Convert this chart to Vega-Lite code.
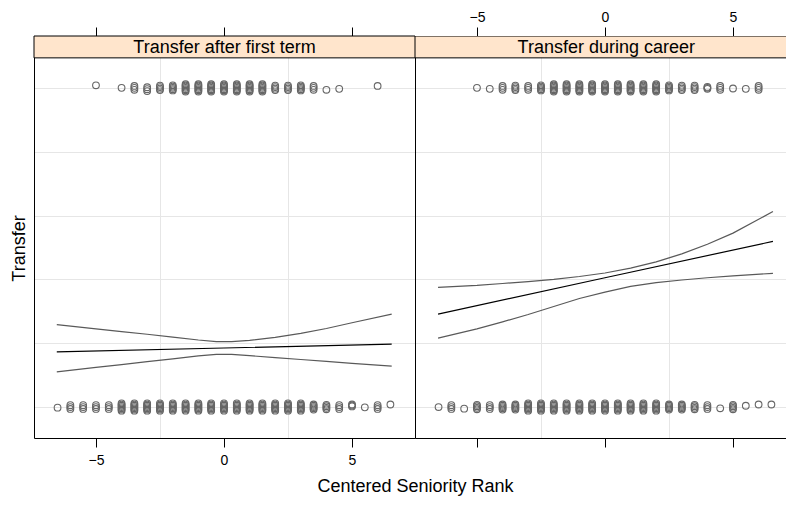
{
"$schema": "https://vega.github.io/schema/vega-lite/v6.json",
"padding": {"left": 10, "top": 10, "right": 0, "bottom": 4},
"spacing": 0,
"bounds": "flush",
"config": {
  "view": {"stroke": null},
  "font": "Liberation Sans",
  "axis": {"labelColor": "black", "titleColor": "black", "titleFontWeight": "normal", "labelFont": "Liberation Sans", "titleFont": "Liberation Sans", "domainColor": "black", "tickColor": "black", "gridColor": "#E6E6E6", "gridWidth": 1, "domainWidth": 1, "tickWidth": 1}
},
"datasets": {
"curves": [
{"p":"L","c":"c","x":-6.53,"y":0.173},{"p":"L","c":"c","x":0,"y":0.185},{"p":"L","c":"c","x":6.55,"y":0.197},
{"p":"L","c":"u","x":-6.53,"y":0.258},{"p":"L","c":"u","x":-5,"y":0.245},{"p":"L","c":"u","x":-4,"y":0.236},{"p":"L","c":"u","x":-3,"y":0.228},{"p":"L","c":"u","x":-2,"y":0.219},{"p":"L","c":"u","x":-1,"y":0.21},{"p":"L","c":"u","x":-0.3,"y":0.205},{"p":"L","c":"u","x":0.3,"y":0.205},{"p":"L","c":"u","x":1,"y":0.209},{"p":"L","c":"u","x":2,"y":0.218},{"p":"L","c":"u","x":3,"y":0.231},{"p":"L","c":"u","x":4,"y":0.246},{"p":"L","c":"u","x":5,"y":0.264},{"p":"L","c":"u","x":6.55,"y":0.291},
{"p":"L","c":"l","x":-6.53,"y":0.11},{"p":"L","c":"l","x":-5,"y":0.124},{"p":"L","c":"l","x":-4,"y":0.133},{"p":"L","c":"l","x":-3,"y":0.142},{"p":"L","c":"l","x":-2,"y":0.151},{"p":"L","c":"l","x":-1,"y":0.16},{"p":"L","c":"l","x":-0.3,"y":0.165},{"p":"L","c":"l","x":0.3,"y":0.165},{"p":"L","c":"l","x":1,"y":0.161},{"p":"L","c":"l","x":2,"y":0.155},{"p":"L","c":"l","x":3,"y":0.149},{"p":"L","c":"l","x":4,"y":0.143},{"p":"L","c":"l","x":5,"y":0.137},{"p":"L","c":"l","x":6.55,"y":0.128},
{"p":"R","c":"c","x":-6.52,"y":0.291},{"p":"R","c":"c","x":0,"y":0.405},{"p":"R","c":"c","x":6.56,"y":0.519},
{"p":"R","c":"u","x":-6.52,"y":0.375},{"p":"R","c":"u","x":-5,"y":0.381},{"p":"R","c":"u","x":-4,"y":0.387},{"p":"R","c":"u","x":-3,"y":0.393},{"p":"R","c":"u","x":-2,"y":0.4},{"p":"R","c":"u","x":-1,"y":0.409},{"p":"R","c":"u","x":0,"y":0.42},{"p":"R","c":"u","x":1,"y":0.435},{"p":"R","c":"u","x":2,"y":0.455},{"p":"R","c":"u","x":3,"y":0.48},{"p":"R","c":"u","x":4,"y":0.51},{"p":"R","c":"u","x":5,"y":0.545},{"p":"R","c":"u","x":6.56,"y":0.6125},
{"p":"R","c":"l","x":-6.52,"y":0.216},{"p":"R","c":"l","x":-5,"y":0.245},{"p":"R","c":"l","x":-4,"y":0.267},{"p":"R","c":"l","x":-3,"y":0.29},{"p":"R","c":"l","x":-2,"y":0.315},{"p":"R","c":"l","x":-1,"y":0.34},{"p":"R","c":"l","x":0,"y":0.36},{"p":"R","c":"l","x":1,"y":0.378},{"p":"R","c":"l","x":2,"y":0.39},{"p":"R","c":"l","x":3,"y":0.398},{"p":"R","c":"l","x":4,"y":0.405},{"p":"R","c":"l","x":5,"y":0.411},{"p":"R","c":"l","x":6.56,"y":0.419}
],
"pts": [
{"p":"L","x":-5,"y":1.008},{"p":"L","x":-4,"y":1.0},
{"p":"L","x":-3.5,"y":0.994},{"p":"L","x":-3.5,"y":1.0},{"p":"L","x":-3.5,"y":1.006},
{"p":"L","x":-3,"y":0.99},{"p":"L","x":-3,"y":0.996},{"p":"L","x":-3,"y":1.002},
{"p":"L","x":-2.5,"y":0.993},{"p":"L","x":-2.5,"y":0.9975},{"p":"L","x":-2.5,"y":1.0025},{"p":"L","x":-2.5,"y":1.007},
{"p":"L","x":-2,"y":0.992},{"p":"L","x":-2,"y":0.996},{"p":"L","x":-2,"y":1.0},{"p":"L","x":-2,"y":1.004},{"p":"L","x":-2,"y":1.008},
{"p":"L","x":-1.5,"y":0.9885},{"p":"L","x":-1.5,"y":0.9925},{"p":"L","x":-1.5,"y":0.996},{"p":"L","x":-1.5,"y":1.0},{"p":"L","x":-1.5,"y":1.004},{"p":"L","x":-1.5,"y":1.0075},{"p":"L","x":-1.5,"y":1.0115},
{"p":"L","x":-1,"y":0.9885},{"p":"L","x":-1,"y":0.9925},{"p":"L","x":-1,"y":0.996},{"p":"L","x":-1,"y":1.0},{"p":"L","x":-1,"y":1.004},{"p":"L","x":-1,"y":1.0075},{"p":"L","x":-1,"y":1.0115},
{"p":"L","x":-0.5,"y":0.9885},{"p":"L","x":-0.5,"y":0.9925},{"p":"L","x":-0.5,"y":0.996},{"p":"L","x":-0.5,"y":1.0},{"p":"L","x":-0.5,"y":1.004},{"p":"L","x":-0.5,"y":1.0075},{"p":"L","x":-0.5,"y":1.0115},
{"p":"L","x":0,"y":0.9885},{"p":"L","x":0,"y":0.9925},{"p":"L","x":0,"y":0.996},{"p":"L","x":0,"y":1.0},{"p":"L","x":0,"y":1.004},{"p":"L","x":0,"y":1.0075},{"p":"L","x":0,"y":1.0115},
{"p":"L","x":0.5,"y":0.9885},{"p":"L","x":0.5,"y":0.9925},{"p":"L","x":0.5,"y":0.996},{"p":"L","x":0.5,"y":1.0},{"p":"L","x":0.5,"y":1.004},{"p":"L","x":0.5,"y":1.0075},{"p":"L","x":0.5,"y":1.0115},
{"p":"L","x":1,"y":0.9885},{"p":"L","x":1,"y":0.9925},{"p":"L","x":1,"y":0.996},{"p":"L","x":1,"y":1.0},{"p":"L","x":1,"y":1.004},{"p":"L","x":1,"y":1.0075},{"p":"L","x":1,"y":1.0115},
{"p":"L","x":1.5,"y":0.9885},{"p":"L","x":1.5,"y":0.9925},{"p":"L","x":1.5,"y":0.996},{"p":"L","x":1.5,"y":1.0},{"p":"L","x":1.5,"y":1.004},{"p":"L","x":1.5,"y":1.0075},{"p":"L","x":1.5,"y":1.0115},
{"p":"L","x":2,"y":0.993},{"p":"L","x":2,"y":0.9975},{"p":"L","x":2,"y":1.0025},{"p":"L","x":2,"y":1.007},
{"p":"L","x":2.5,"y":0.993},{"p":"L","x":2.5,"y":0.9975},{"p":"L","x":2.5,"y":1.0025},{"p":"L","x":2.5,"y":1.007},
{"p":"L","x":3,"y":0.992},{"p":"L","x":3,"y":0.996},{"p":"L","x":3,"y":1.0},{"p":"L","x":3,"y":1.004},{"p":"L","x":3,"y":1.008},
{"p":"L","x":3.5,"y":0.994},{"p":"L","x":3.5,"y":1.0},{"p":"L","x":3.5,"y":1.006},
{"p":"L","x":4,"y":0.994},{"p":"L","x":4.5,"y":0.997},{"p":"L","x":6,"y":1.006},
{"p":"L","x":-6.5,"y":-0.002},
{"p":"L","x":-6,"y":-0.006},{"p":"L","x":-6,"y":0},{"p":"L","x":-6,"y":0.006},
{"p":"L","x":-5.5,"y":-0.006},{"p":"L","x":-5.5,"y":0},{"p":"L","x":-5.5,"y":0.006},
{"p":"L","x":-5,"y":-0.006},{"p":"L","x":-5,"y":0},{"p":"L","x":-5,"y":0.006},
{"p":"L","x":-4.5,"y":-0.006},{"p":"L","x":-4.5,"y":0},{"p":"L","x":-4.5,"y":0.006},
{"p":"L","x":-4,"y":-0.0115},{"p":"L","x":-4,"y":-0.0075},{"p":"L","x":-4,"y":-0.004},{"p":"L","x":-4,"y":0},{"p":"L","x":-4,"y":0.004},{"p":"L","x":-4,"y":0.0075},{"p":"L","x":-4,"y":0.0115},
{"p":"L","x":-3.5,"y":-0.0115},{"p":"L","x":-3.5,"y":-0.0075},{"p":"L","x":-3.5,"y":-0.004},{"p":"L","x":-3.5,"y":0},{"p":"L","x":-3.5,"y":0.004},{"p":"L","x":-3.5,"y":0.0075},{"p":"L","x":-3.5,"y":0.0115},
{"p":"L","x":-3,"y":-0.0115},{"p":"L","x":-3,"y":-0.0075},{"p":"L","x":-3,"y":-0.004},{"p":"L","x":-3,"y":0},{"p":"L","x":-3,"y":0.004},{"p":"L","x":-3,"y":0.0075},{"p":"L","x":-3,"y":0.0115},
{"p":"L","x":-2.5,"y":-0.0115},{"p":"L","x":-2.5,"y":-0.0075},{"p":"L","x":-2.5,"y":-0.004},{"p":"L","x":-2.5,"y":0},{"p":"L","x":-2.5,"y":0.004},{"p":"L","x":-2.5,"y":0.0075},{"p":"L","x":-2.5,"y":0.0115},
{"p":"L","x":-2,"y":-0.0115},{"p":"L","x":-2,"y":-0.0075},{"p":"L","x":-2,"y":-0.004},{"p":"L","x":-2,"y":0},{"p":"L","x":-2,"y":0.004},{"p":"L","x":-2,"y":0.0075},{"p":"L","x":-2,"y":0.0115},
{"p":"L","x":-1.5,"y":-0.0115},{"p":"L","x":-1.5,"y":-0.0075},{"p":"L","x":-1.5,"y":-0.004},{"p":"L","x":-1.5,"y":0},{"p":"L","x":-1.5,"y":0.004},{"p":"L","x":-1.5,"y":0.0075},{"p":"L","x":-1.5,"y":0.0115},
{"p":"L","x":-1,"y":-0.0115},{"p":"L","x":-1,"y":-0.0075},{"p":"L","x":-1,"y":-0.004},{"p":"L","x":-1,"y":0},{"p":"L","x":-1,"y":0.004},{"p":"L","x":-1,"y":0.0075},{"p":"L","x":-1,"y":0.0115},
{"p":"L","x":-0.5,"y":-0.0115},{"p":"L","x":-0.5,"y":-0.0075},{"p":"L","x":-0.5,"y":-0.004},{"p":"L","x":-0.5,"y":0},{"p":"L","x":-0.5,"y":0.004},{"p":"L","x":-0.5,"y":0.0075},{"p":"L","x":-0.5,"y":0.0115},
{"p":"L","x":0,"y":-0.0115},{"p":"L","x":0,"y":-0.0075},{"p":"L","x":0,"y":-0.004},{"p":"L","x":0,"y":0},{"p":"L","x":0,"y":0.004},{"p":"L","x":0,"y":0.0075},{"p":"L","x":0,"y":0.0115},
{"p":"L","x":0.5,"y":-0.0115},{"p":"L","x":0.5,"y":-0.0075},{"p":"L","x":0.5,"y":-0.004},{"p":"L","x":0.5,"y":0},{"p":"L","x":0.5,"y":0.004},{"p":"L","x":0.5,"y":0.0075},{"p":"L","x":0.5,"y":0.0115},
{"p":"L","x":1,"y":-0.0115},{"p":"L","x":1,"y":-0.0075},{"p":"L","x":1,"y":-0.004},{"p":"L","x":1,"y":0},{"p":"L","x":1,"y":0.004},{"p":"L","x":1,"y":0.0075},{"p":"L","x":1,"y":0.0115},
{"p":"L","x":1.5,"y":-0.0115},{"p":"L","x":1.5,"y":-0.0075},{"p":"L","x":1.5,"y":-0.004},{"p":"L","x":1.5,"y":0},{"p":"L","x":1.5,"y":0.004},{"p":"L","x":1.5,"y":0.0075},{"p":"L","x":1.5,"y":0.0115},
{"p":"L","x":2,"y":-0.0115},{"p":"L","x":2,"y":-0.0075},{"p":"L","x":2,"y":-0.004},{"p":"L","x":2,"y":0},{"p":"L","x":2,"y":0.004},{"p":"L","x":2,"y":0.0075},{"p":"L","x":2,"y":0.0115},
{"p":"L","x":2.5,"y":-0.0115},{"p":"L","x":2.5,"y":-0.0075},{"p":"L","x":2.5,"y":-0.004},{"p":"L","x":2.5,"y":0},{"p":"L","x":2.5,"y":0.004},{"p":"L","x":2.5,"y":0.0075},{"p":"L","x":2.5,"y":0.0115},
{"p":"L","x":3,"y":-0.0115},{"p":"L","x":3,"y":-0.0075},{"p":"L","x":3,"y":-0.004},{"p":"L","x":3,"y":0},{"p":"L","x":3,"y":0.004},{"p":"L","x":3,"y":0.0075},{"p":"L","x":3,"y":0.0115},
{"p":"L","x":3.5,"y":-0.008},{"p":"L","x":3.5,"y":-0.004},{"p":"L","x":3.5,"y":0},{"p":"L","x":3.5,"y":0.004},{"p":"L","x":3.5,"y":0.008},
{"p":"L","x":4,"y":-0.007},{"p":"L","x":4,"y":-0.0025},{"p":"L","x":4,"y":0.0025},{"p":"L","x":4,"y":0.007},
{"p":"L","x":4.5,"y":-0.006},{"p":"L","x":4.5,"y":0},{"p":"L","x":4.5,"y":0.006},
{"p":"L","x":5,"y":0.002},{"p":"L","x":5,"y":0.005},{"p":"L","x":5,"y":0.008},
{"p":"L","x":5.5,"y":-0.001},
{"p":"L","x":6,"y":-0.006},{"p":"L","x":6,"y":0},{"p":"L","x":6,"y":0.006},
{"p":"L","x":6.5,"y":0.008},
{"p":"R","x":-5,"y":1.0},{"p":"R","x":-4.5,"y":0.997},
{"p":"R","x":-4,"y":0.994},{"p":"R","x":-4,"y":1.0},{"p":"R","x":-4,"y":1.006},
{"p":"R","x":-3.5,"y":0.993},{"p":"R","x":-3.5,"y":0.9975},{"p":"R","x":-3.5,"y":1.0025},{"p":"R","x":-3.5,"y":1.007},
{"p":"R","x":-3,"y":0.994},{"p":"R","x":-3,"y":1.0},{"p":"R","x":-3,"y":1.006},
{"p":"R","x":-2.5,"y":0.992},{"p":"R","x":-2.5,"y":0.996},{"p":"R","x":-2.5,"y":1.0},{"p":"R","x":-2.5,"y":1.004},{"p":"R","x":-2.5,"y":1.008},
{"p":"R","x":-2,"y":0.9885},{"p":"R","x":-2,"y":0.9925},{"p":"R","x":-2,"y":0.996},{"p":"R","x":-2,"y":1.0},{"p":"R","x":-2,"y":1.004},{"p":"R","x":-2,"y":1.0075},{"p":"R","x":-2,"y":1.0115},
{"p":"R","x":-1.5,"y":0.9885},{"p":"R","x":-1.5,"y":0.9925},{"p":"R","x":-1.5,"y":0.996},{"p":"R","x":-1.5,"y":1.0},{"p":"R","x":-1.5,"y":1.004},{"p":"R","x":-1.5,"y":1.0075},{"p":"R","x":-1.5,"y":1.0115},
{"p":"R","x":-1,"y":0.9885},{"p":"R","x":-1,"y":0.9925},{"p":"R","x":-1,"y":0.996},{"p":"R","x":-1,"y":1.0},{"p":"R","x":-1,"y":1.004},{"p":"R","x":-1,"y":1.0075},{"p":"R","x":-1,"y":1.0115},
{"p":"R","x":-0.5,"y":0.9885},{"p":"R","x":-0.5,"y":0.9925},{"p":"R","x":-0.5,"y":0.996},{"p":"R","x":-0.5,"y":1.0},{"p":"R","x":-0.5,"y":1.004},{"p":"R","x":-0.5,"y":1.0075},{"p":"R","x":-0.5,"y":1.0115},
{"p":"R","x":0,"y":0.9885},{"p":"R","x":0,"y":0.9925},{"p":"R","x":0,"y":0.996},{"p":"R","x":0,"y":1.0},{"p":"R","x":0,"y":1.004},{"p":"R","x":0,"y":1.0075},{"p":"R","x":0,"y":1.0115},
{"p":"R","x":0.5,"y":0.9885},{"p":"R","x":0.5,"y":0.9925},{"p":"R","x":0.5,"y":0.996},{"p":"R","x":0.5,"y":1.0},{"p":"R","x":0.5,"y":1.004},{"p":"R","x":0.5,"y":1.0075},{"p":"R","x":0.5,"y":1.0115},
{"p":"R","x":1,"y":0.9885},{"p":"R","x":1,"y":0.9925},{"p":"R","x":1,"y":0.996},{"p":"R","x":1,"y":1.0},{"p":"R","x":1,"y":1.004},{"p":"R","x":1,"y":1.0075},{"p":"R","x":1,"y":1.0115},
{"p":"R","x":1.5,"y":0.9885},{"p":"R","x":1.5,"y":0.9925},{"p":"R","x":1.5,"y":0.996},{"p":"R","x":1.5,"y":1.0},{"p":"R","x":1.5,"y":1.004},{"p":"R","x":1.5,"y":1.0075},{"p":"R","x":1.5,"y":1.0115},
{"p":"R","x":2,"y":0.9885},{"p":"R","x":2,"y":0.9925},{"p":"R","x":2,"y":0.996},{"p":"R","x":2,"y":1.0},{"p":"R","x":2,"y":1.004},{"p":"R","x":2,"y":1.0075},{"p":"R","x":2,"y":1.0115},
{"p":"R","x":2.5,"y":0.992},{"p":"R","x":2.5,"y":0.996},{"p":"R","x":2.5,"y":1.0},{"p":"R","x":2.5,"y":1.004},{"p":"R","x":2.5,"y":1.008},
{"p":"R","x":3,"y":0.993},{"p":"R","x":3,"y":0.9975},{"p":"R","x":3,"y":1.0025},{"p":"R","x":3,"y":1.007},
{"p":"R","x":3.5,"y":0.993},{"p":"R","x":3.5,"y":0.9975},{"p":"R","x":3.5,"y":1.0025},{"p":"R","x":3.5,"y":1.007},
{"p":"R","x":4,"y":0.997},{"p":"R","x":4,"y":1.0},{"p":"R","x":4,"y":1.003},
{"p":"R","x":4.5,"y":0.994},{"p":"R","x":4.5,"y":1.0},{"p":"R","x":4.5,"y":1.006},
{"p":"R","x":5,"y":0.998},{"p":"R","x":5.5,"y":0.997},
{"p":"R","x":6,"y":0.994},{"p":"R","x":6,"y":1.0},{"p":"R","x":6,"y":1.006},
{"p":"R","x":-6.5,"y":0.0},
{"p":"R","x":-6,"y":-0.006},{"p":"R","x":-6,"y":0},{"p":"R","x":-6,"y":0.006},
{"p":"R","x":-5.5,"y":-0.005},
{"p":"R","x":-5,"y":-0.007},{"p":"R","x":-5,"y":-0.0025},{"p":"R","x":-5,"y":0.0025},{"p":"R","x":-5,"y":0.007},
{"p":"R","x":-4.5,"y":-0.006},{"p":"R","x":-4.5,"y":0},{"p":"R","x":-4.5,"y":0.006},
{"p":"R","x":-4,"y":-0.008},{"p":"R","x":-4,"y":-0.004},{"p":"R","x":-4,"y":0},{"p":"R","x":-4,"y":0.004},{"p":"R","x":-4,"y":0.008},
{"p":"R","x":-3.5,"y":-0.008},{"p":"R","x":-3.5,"y":-0.004},{"p":"R","x":-3.5,"y":0},{"p":"R","x":-3.5,"y":0.004},{"p":"R","x":-3.5,"y":0.008},
{"p":"R","x":-3,"y":-0.0115},{"p":"R","x":-3,"y":-0.0075},{"p":"R","x":-3,"y":-0.004},{"p":"R","x":-3,"y":0},{"p":"R","x":-3,"y":0.004},{"p":"R","x":-3,"y":0.0075},{"p":"R","x":-3,"y":0.0115},
{"p":"R","x":-2.5,"y":-0.0115},{"p":"R","x":-2.5,"y":-0.0075},{"p":"R","x":-2.5,"y":-0.004},{"p":"R","x":-2.5,"y":0},{"p":"R","x":-2.5,"y":0.004},{"p":"R","x":-2.5,"y":0.0075},{"p":"R","x":-2.5,"y":0.0115},
{"p":"R","x":-2,"y":-0.0115},{"p":"R","x":-2,"y":-0.0075},{"p":"R","x":-2,"y":-0.004},{"p":"R","x":-2,"y":0},{"p":"R","x":-2,"y":0.004},{"p":"R","x":-2,"y":0.0075},{"p":"R","x":-2,"y":0.0115},
{"p":"R","x":-1.5,"y":-0.0115},{"p":"R","x":-1.5,"y":-0.0075},{"p":"R","x":-1.5,"y":-0.004},{"p":"R","x":-1.5,"y":0},{"p":"R","x":-1.5,"y":0.004},{"p":"R","x":-1.5,"y":0.0075},{"p":"R","x":-1.5,"y":0.0115},
{"p":"R","x":-1,"y":-0.0115},{"p":"R","x":-1,"y":-0.0075},{"p":"R","x":-1,"y":-0.004},{"p":"R","x":-1,"y":0},{"p":"R","x":-1,"y":0.004},{"p":"R","x":-1,"y":0.0075},{"p":"R","x":-1,"y":0.0115},
{"p":"R","x":-0.5,"y":-0.0115},{"p":"R","x":-0.5,"y":-0.0075},{"p":"R","x":-0.5,"y":-0.004},{"p":"R","x":-0.5,"y":0},{"p":"R","x":-0.5,"y":0.004},{"p":"R","x":-0.5,"y":0.0075},{"p":"R","x":-0.5,"y":0.0115},
{"p":"R","x":0,"y":-0.0115},{"p":"R","x":0,"y":-0.0075},{"p":"R","x":0,"y":-0.004},{"p":"R","x":0,"y":0},{"p":"R","x":0,"y":0.004},{"p":"R","x":0,"y":0.0075},{"p":"R","x":0,"y":0.0115},
{"p":"R","x":0.5,"y":-0.0115},{"p":"R","x":0.5,"y":-0.0075},{"p":"R","x":0.5,"y":-0.004},{"p":"R","x":0.5,"y":0},{"p":"R","x":0.5,"y":0.004},{"p":"R","x":0.5,"y":0.0075},{"p":"R","x":0.5,"y":0.0115},
{"p":"R","x":1,"y":-0.0115},{"p":"R","x":1,"y":-0.0075},{"p":"R","x":1,"y":-0.004},{"p":"R","x":1,"y":0},{"p":"R","x":1,"y":0.004},{"p":"R","x":1,"y":0.0075},{"p":"R","x":1,"y":0.0115},
{"p":"R","x":1.5,"y":-0.0115},{"p":"R","x":1.5,"y":-0.0075},{"p":"R","x":1.5,"y":-0.004},{"p":"R","x":1.5,"y":0},{"p":"R","x":1.5,"y":0.004},{"p":"R","x":1.5,"y":0.0075},{"p":"R","x":1.5,"y":0.0115},
{"p":"R","x":2,"y":-0.0115},{"p":"R","x":2,"y":-0.0075},{"p":"R","x":2,"y":-0.004},{"p":"R","x":2,"y":0},{"p":"R","x":2,"y":0.004},{"p":"R","x":2,"y":0.0075},{"p":"R","x":2,"y":0.0115},
{"p":"R","x":2.5,"y":-0.008},{"p":"R","x":2.5,"y":-0.004},{"p":"R","x":2.5,"y":0},{"p":"R","x":2.5,"y":0.004},{"p":"R","x":2.5,"y":0.008},
{"p":"R","x":3,"y":-0.008},{"p":"R","x":3,"y":-0.004},{"p":"R","x":3,"y":0},{"p":"R","x":3,"y":0.004},{"p":"R","x":3,"y":0.008},
{"p":"R","x":3.5,"y":-0.007},{"p":"R","x":3.5,"y":-0.0025},{"p":"R","x":3.5,"y":0.0025},{"p":"R","x":3.5,"y":0.007},
{"p":"R","x":4,"y":-0.006},{"p":"R","x":4,"y":0},{"p":"R","x":4,"y":0.006},
{"p":"R","x":4.5,"y":-0.004},
{"p":"R","x":5,"y":-0.007},{"p":"R","x":5,"y":-0.0025},{"p":"R","x":5,"y":0.0025},{"p":"R","x":5,"y":0.007},
{"p":"R","x":5.5,"y":0.004},{"p":"R","x":6,"y":0.008},{"p":"R","x":6.5,"y":0.008}
],
"stripL": [{"lab": "Transfer after first term"}],
"stripR": [{"lab": "Transfer during career"}]
},
"hconcat": [
{
  "width": 381, "height": 402,
  "layer": [
    {
      "data": {"name": "curves"},
      "transform": [{"filter": "datum.p == 'L'"}],
      "mark": {"type": "line", "strokeWidth": 1.2},
      "encoding": {
        "x": {"field": "x", "type": "quantitative", "scale": {"domain": [-7.42, 7.46], "nice": false, "zero": false},
              "axis": {"orient": "bottom", "values": [-2.5, 2.5], "grid": true, "ticks": false, "labels": false, "domain": false, "title": null}},
        "y": {"field": "y", "type": "quantitative", "scale": {"domain": [-0.097, 1.1625], "nice": false, "zero": false},
              "axis": {"values": [0, 0.2, 0.4, 0.6, 0.8, 1], "grid": true, "ticks": false, "labels": false, "domain": true, "title": "Transfer", "titleFontSize": 18, "titlePadding": 6, "titleY": 212}},
        "detail": {"field": "c"},
        "color": {"field": "c", "type": "nominal", "scale": {"domain": ["c", "u", "l"], "range": ["#000000", "#595959", "#595959"]}, "legend": null}
      }
    },
    {
      "data": {"name": "pts"},
      "transform": [{"filter": "datum.p == 'L'"}],
      "mark": {"type": "point", "shape": "circle", "filled": false, "size": 45, "strokeWidth": 1.1, "color": "#666666", "opacity": 1},
      "encoding": {
        "x": {"field": "x", "type": "quantitative", "scale": {"domain": [-7.42, 7.46], "nice": false, "zero": false},
              "axis": {"orient": "bottom", "values": [-5, 0, 5], "grid": false, "ticks": true, "tickSize": 9, "labels": true, "labelFontSize": 14, "labelPadding": 6, "domain": true, "title": "Centered Seniority Rank", "titleFontSize": 18, "titlePadding": 10, "titleX": 381}},
        "y": {"field": "y", "type": "quantitative", "scale": {"domain": [-0.097, 1.1625], "nice": false, "zero": false}, "axis": null}
      }
    },
    {
      "data": {"name": "stripL"},
      "mark": {"type": "rect", "fill": "#FFE5CC", "stroke": "black", "strokeWidth": 1},
      "encoding": {
        "x": {"datum": -7.42, "type": "quantitative", "scale": {"domain": [-7.42, 7.46], "nice": false, "zero": false},
              "axis": {"orient": "top", "values": [-5, 0, 5], "grid": false, "ticks": true, "tickSize": 9, "labels": true, "labelOpacity": 0, "labelFontSize": 14, "labelPadding": 3, "domain": true, "title": null}},
        "x2": {"datum": 7.46},
        "y": {"datum": 1.094, "type": "quantitative", "scale": {"domain": [-0.097, 1.1625], "nice": false, "zero": false}, "axis": null},
        "y2": {"datum": 1.1625}
      }
    },
    {
      "data": {"name": "stripL"},
      "mark": {"type": "text", "fontSize": 18, "color": "black", "baseline": "middle", "align": "center", "dy": 1},
      "encoding": {
        "x": {"datum": 0.02, "type": "quantitative", "scale": {"domain": [-7.42, 7.46], "nice": false, "zero": false}, "axis": null},
        "y": {"datum": 1.128, "type": "quantitative", "scale": {"domain": [-0.097, 1.1625], "nice": false, "zero": false}, "axis": null},
        "text": {"field": "lab"}
      }
    }
  ],
  "resolve": {"axis": {"x": "independent", "y": "independent"}}
},
{
  "width": 371, "height": 402,
  "layer": [
    {
      "data": {"name": "curves"},
      "transform": [{"filter": "datum.p == 'R'"}],
      "mark": {"type": "line", "strokeWidth": 1.2},
      "encoding": {
        "x": {"field": "x", "type": "quantitative", "scale": {"domain": [-7.42, 7.07], "nice": false, "zero": false},
              "axis": {"orient": "bottom", "values": [-2.5, 2.5], "grid": true, "ticks": false, "labels": false, "domain": false, "title": null}},
        "y": {"field": "y", "type": "quantitative", "scale": {"domain": [-0.097, 1.1625], "nice": false, "zero": false},
              "axis": {"values": [0, 0.2, 0.4, 0.6, 0.8, 1], "grid": true, "ticks": false, "labels": false, "domain": true, "title": null}},
        "detail": {"field": "c"},
        "color": {"field": "c", "type": "nominal", "scale": {"domain": ["c", "u", "l"], "range": ["#000000", "#595959", "#595959"]}, "legend": null}
      }
    },
    {
      "data": {"name": "pts"},
      "transform": [{"filter": "datum.p == 'R'"}],
      "mark": {"type": "point", "shape": "circle", "filled": false, "size": 45, "strokeWidth": 1.1, "color": "#666666", "opacity": 1, "clip": true},
      "encoding": {
        "x": {"field": "x", "type": "quantitative", "scale": {"domain": [-7.42, 7.07], "nice": false, "zero": false},
              "axis": {"orient": "bottom", "values": [-5, 0, 5], "grid": false, "ticks": true, "tickSize": 9, "labels": false, "domain": true, "title": null}},
        "y": {"field": "y", "type": "quantitative", "scale": {"domain": [-0.097, 1.1625], "nice": false, "zero": false}, "axis": null}
      }
    },
    {
      "data": {"name": "stripR"},
      "mark": {"type": "rect", "fill": "#FFE5CC", "stroke": "black", "strokeWidth": 1, "clip": true},
      "encoding": {
        "x": {"datum": -7.42, "type": "quantitative", "scale": {"domain": [-7.42, 7.07], "nice": false, "zero": false},
              "axis": {"orient": "top", "values": [-5, 0, 5], "grid": false, "ticks": true, "tickSize": 9, "labels": true, "labelFontSize": 14, "labelPadding": 3, "domain": true, "title": null}},
        "x2": {"datum": 7.4},
        "y": {"datum": 1.094, "type": "quantitative", "scale": {"domain": [-0.097, 1.1625], "nice": false, "zero": false}, "axis": null},
        "y2": {"datum": 1.1625}
      }
    },
    {
      "data": {"name": "stripR"},
      "mark": {"type": "text", "fontSize": 18, "color": "black", "baseline": "middle", "align": "center", "dy": 1},
      "encoding": {
        "x": {"datum": 0.05, "type": "quantitative", "scale": {"domain": [-7.42, 7.07], "nice": false, "zero": false}, "axis": null},
        "y": {"datum": 1.128, "type": "quantitative", "scale": {"domain": [-0.097, 1.1625], "nice": false, "zero": false}, "axis": null},
        "text": {"field": "lab"}
      }
    }
  ],
  "resolve": {"axis": {"x": "independent", "y": "independent"}}
}
]
}
